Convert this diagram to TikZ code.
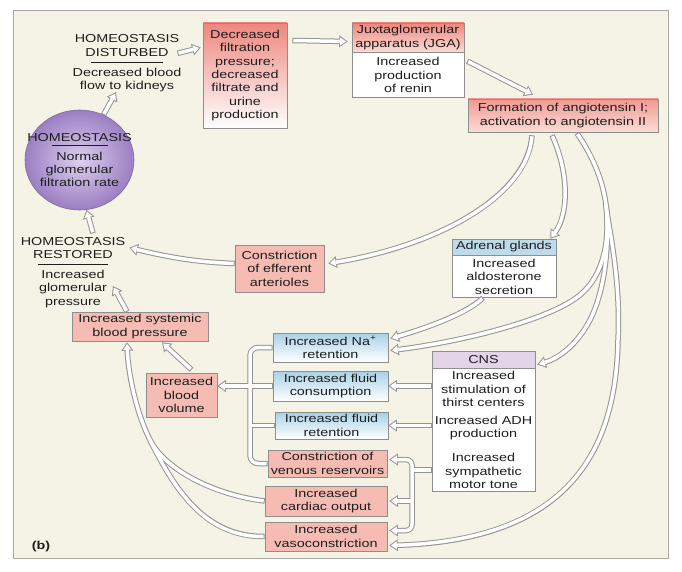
\documentclass[tikz,border=0pt]{standalone}
\usepackage{fontspec}
\setmainfont{Liberation Sans}[FakeStretch=1.25]
\usetikzlibrary{positioning,calc,arrows.meta,shapes.geometric}

\definecolor{panelbg}{HTML}{F5F3E5}
\definecolor{panelline}{HTML}{A8A8A0}
\definecolor{boxline}{HTML}{8E8E8E}
\definecolor{arrline}{HTML}{949494}
\definecolor{inkcol}{HTML}{1E1E1E}
\definecolor{salmon}{HTML}{F6BCB3}
\definecolor{redtop}{HTML}{EE877F}
\definecolor{pinkbot}{HTML}{FCDCD7}
\definecolor{bluehead}{HTML}{BCDCEC}
\definecolor{bluetop}{HTML}{A8D1E7}
\definecolor{lav}{HTML}{E3D4EA}
\definecolor{purpin}{HTML}{DDD0EE}
\definecolor{purpout}{HTML}{9A7FC3}
\definecolor{circline}{HTML}{7E6E96}

\newcommand{\diagfont}{\fontsize{11.5pt}{13.4pt}\selectfont}

\begin{document}
\begin{tikzpicture}[
x=1pt, y=-1pt,
box/.style={
draw=boxline,
line width=0.6pt,
align=center,
inner sep=0pt,
font=\diagfont,
text=inkcol
},
plain/.style={
align=center,
inner sep=0pt,
font=\diagfont,
text=inkcol
},
salmonbox/.style={box, fill=salmon},
bluebox/.style={box, top color=bluetop, bottom color=white},
edgeout/.style={draw=arrline, line width=5.5pt},
edgein/.style={draw=white, line width=3.5pt},
tipout/.style={
edgeout,
-{Triangle[length=8.5pt, width=12pt, line width=0pt]}
},
tipin/.style={
edgein,
shorten >=1.7pt,
-{Triangle[length=5.8pt, width=8.2pt, line width=0pt]}
},
flow/.style={
tipout,
postaction={tipin, shorten <=1pt}
}
]

\useasboundingbox (0,0) rectangle (682,572);
\draw[draw=panelline, fill=panelbg, line width=0.8pt] (13,10) rectangle (668,558);


% Kidney side

\node (homeo) [ellipse, draw=circline, line width=0.6pt, inner sep=0pt,
inner color=purpin, outer color=purpout,
minimum width=109pt, minimum height=100pt] at (79.5,160) {};

\node (homeotext) [plain] at (homeo.center)
{HOMEOSTASIS\\[-9.4pt]\rule{56pt}{0.5pt}\\[1.6pt]Normal\\glomerular\\filtration rate};

\node (dist) [plain] at (127,63.4)
{HOMEOSTASIS\\DISTURBED\\[-7pt]\rule{72pt}{0.5pt}\\Decreased blood\\flow to kidneys};

\node (rest) [plain] at (73,272.5)
{HOMEOSTASIS\\RESTORED\\[-7.4pt]\rule{71pt}{0.5pt}\\Increased\\glomerular\\pressure};

\node (filt) [box, minimum width=84pt, minimum height=105pt,
top color=redtop, middle color=white, bottom color=white] at (245,75.5)
{Decreased\\filtration\\pressure;\\decreased\\filtrate and\\urine\\production};

\node (jgahead) [box, minimum width=112pt, minimum height=29pt,
top color=redtop, bottom color=pinkbot] at (408,37.5)
{Juxtaglomerular\\apparatus (JGA)};

\node (jgabody) [box, fill=white, minimum width=112pt, minimum height=45pt,
below=0pt of jgahead]
{Increased\\production\\of renin};

\node (ang) [box, minimum width=190pt, minimum height=33pt,
top color=redtop!85, bottom color=pinkbot] at (563,115.5)
{Formation of angiotensin I;\\activation to angiotensin II};


% Effects

\node (eff) [salmonbox, minimum width=89pt, minimum height=47pt] at (279.5,268.5)
{Constriction\\of efferent\\arterioles};

\node (adhead) [box, fill=bluehead, minimum width=104pt, minimum height=16pt] at (504,247)
{Adrenal glands};

\node (adbody) [box, fill=white, minimum width=104pt, minimum height=42pt,
below=0pt of adhead]
{Increased\\aldosterone\\secretion};

\node (sbp) [salmonbox, minimum width=136pt, minimum height=29pt] at (140,326.5)
{Increased systemic\\blood pressure};

\node (bvol) [salmonbox, minimum width=71pt, minimum height=44pt] at (181.5,395)
{Increased\\blood\\volume};

\node (na) [bluebox, minimum width=115pt, minimum height=29pt] at (330.5,347.5)
{Increased Na\textsuperscript{+}\\retention};

\node (cons) [bluebox, minimum width=115pt, minimum height=30pt] at (330.5,386)
{Increased fluid\\consumption};

\node (fret) [bluebox, minimum width=113pt, minimum height=27pt] at (331.5,425.5)
{Increased fluid\\retention};

\node (venous) [salmonbox, minimum width=119pt, minimum height=27pt] at (327.5,463.5)
{Constriction of\\venous reservoirs};

\node (card) [salmonbox, minimum width=122pt, minimum height=30pt] at (326,501)
{Increased\\cardiac output};

\node (vaso) [salmonbox, minimum width=122pt, minimum height=29pt] at (326,536.5)
{Increased\\vasoconstriction};

\node (cnshead) [box, fill=lav, minimum width=103pt, minimum height=17pt] at (483.5,359.5)
{CNS};

\node (cnsbody) [box, fill=white, minimum width=103pt, minimum height=123pt,
below=0pt of cnshead]
{Increased\\stimulation of\\thirst centers\\[4pt]Increased ADH\\production\\[11pt]Increased\\sympathetic\\motor tone};

\node (tag) [plain, font=\diagfont\bfseries] at (41,547) {(b)};


% Top loop

\draw[flow] (homeo.62) -- ([xshift=-11pt]dist.south);
\draw[flow] ([xshift=-4pt,yshift=10pt]dist.east) -- ([xshift=-2pt,yshift=28pt]filt.west);
\draw[flow] ([xshift=5pt,yshift=35pt]filt.east) -- ([xshift=-4pt,yshift=-4pt]jgahead.west);
\draw[flow] ([xshift=3pt,yshift=14pt]jgabody.east) -- ([xshift=-30pt,yshift=4pt]ang.north);

\draw[flow] ([xshift=-31pt,yshift=-3pt]ang.south)
  .. controls (528,195) and (440,245) .. ([xshift=4pt,yshift=5pt]eff.east);
\draw[flow] ([xshift=-11pt,yshift=-3pt]ang.south)
  .. controls (570,175) and (568,215) .. ([xshift=-6pt]adhead.north east);
\draw[flow] ([xshift=-21pt]adbody.south)
  .. controls (465,315) and (420,330) .. ([xshift=2pt,yshift=9pt]na.east);


% Return to homeostasis

\draw[flow] ([yshift=5pt]eff.west)
  .. controls (190,262) and (160,255) .. ([xshift=4pt,yshift=-10.5pt]rest.north east);
\draw[flow] ([xshift=-13pt]sbp.north) -- ([xshift=40pt,yshift=21.6pt]rest.south);
\draw[flow] ([xshift=20pt,yshift=4pt]rest.north) -- (homeo.-82);
\draw[flow] ([xshift=10pt,yshift=3pt]bvol.north) -- ([xshift=22pt,yshift=-1pt]sbp.south);

\draw[flow] (cnsbody.west |- cons.east) -- (cons.east);
\draw[flow] (cnsbody.west |- fret.east) -- (fret.east);


% Angiotensin II fork

\coordinate (fork) at (606,205);

\draw[edgeout] ([xshift=14pt,yshift=-1pt]ang.south)
  .. controls (592,155) and (603,180) .. (fork);
\draw[tipout] (fork) .. controls (609,230) and (621,280) .. (618,340)
  .. controls (616,450) and (570,540) .. ([xshift=2pt,yshift=-9pt]vaso.east);
\draw[tipout] (fork) .. controls (610,240) and (604,275) .. (580,295)
  .. controls (550,320) and (460,342) .. ([xshift=2pt,yshift=-3pt]na.east);
\draw[tipout] (fork) .. controls (610,245) and (605,290) .. (590,320)
  .. controls (578,343) and (560,358) .. ([xshift=2pt,yshift=-5pt]cnshead.east);

\draw[edgein, shorten <=1pt] ([xshift=14pt,yshift=-1pt]ang.south)
  .. controls (592,155) and (603,180) .. (fork);
\draw[tipin] (fork) .. controls (609,230) and (621,280) .. (618,340)
  .. controls (616,450) and (570,540) .. ([xshift=2pt,yshift=-9pt]vaso.east);
\draw[tipin] (fork) .. controls (610,240) and (604,275) .. (580,295)
  .. controls (550,320) and (460,342) .. ([xshift=2pt,yshift=-3pt]na.east);
\draw[tipin] (fork) .. controls (610,245) and (605,290) .. (590,320)
  .. controls (578,343) and (560,358) .. ([xshift=2pt,yshift=-5pt]cnshead.east);


% Cardiac output and vasoconstriction

\coordinate (merge) at (150,440);

\draw[edgeout] (card.west) .. controls (215,495) and (165,470) .. (merge);
\draw[edgeout] (vaso.west) .. controls (205,537) and (175,490) .. (merge);
\draw[tipout] (merge) .. controls (135,410) and (128,370) .. ([xshift=-13pt,yshift=-1pt]sbp.south);

\draw[edgein, shorten <=1pt] (card.west) .. controls (215,495) and (165,470) .. (merge);
\draw[edgein, shorten <=1pt] (vaso.west) .. controls (205,537) and (175,490) .. (merge);
\draw[tipin] (merge) .. controls (135,410) and (128,370) .. ([xshift=-13pt,yshift=-1pt]sbp.south);


% Volume bracket

\coordinate (lbar) at (250,400);

\draw[edgeout, rounded corners=8pt] (na.west) -| (lbar |- venous.west) -- (venous.west);
\draw[edgeout] (cons.west) -- (lbar |- cons.west);
\draw[edgeout] (fret.west) -- (lbar |- fret.west);
\draw[tipout] (lbar |- cons.west) -- (bvol.east |- cons.west);

\draw[edgein, rounded corners=8pt, shorten <=1pt, shorten >=1pt]
  (na.west) -| (lbar |- venous.west) -- (venous.west);
\draw[edgein, shorten <=1pt] (cons.west) -- (lbar |- cons.west);
\draw[edgein, shorten <=1pt] (fret.west) -- (lbar |- fret.west);
\draw[tipin] (lbar |- cons.west) -- (bvol.east |- cons.west);


% Sympathetic bracket

\coordinate (jn) at (412,470);

\draw[edgeout] (cnsbody.west |- jn) -- (jn);
\draw[tipout, rounded corners=6pt] (jn) |- ([xshift=2pt,yshift=4pt]venous.east);
\draw[tipout, rounded corners=6pt] (jn) |- ([xshift=2pt,yshift=6pt]vaso.east);
\draw[tipout] (jn |- card.east) -- ([xshift=2pt]card.east);

\draw[edgein, shorten <=1pt] (cnsbody.west |- jn) -- (jn);
\draw[tipin, rounded corners=6pt] (jn) |- ([xshift=2pt,yshift=4pt]venous.east);
\draw[tipin, rounded corners=6pt] (jn) |- ([xshift=2pt,yshift=6pt]vaso.east);
\draw[tipin] (jn |- card.east) -- ([xshift=2pt]card.east);


\end{tikzpicture}
\end{document}
